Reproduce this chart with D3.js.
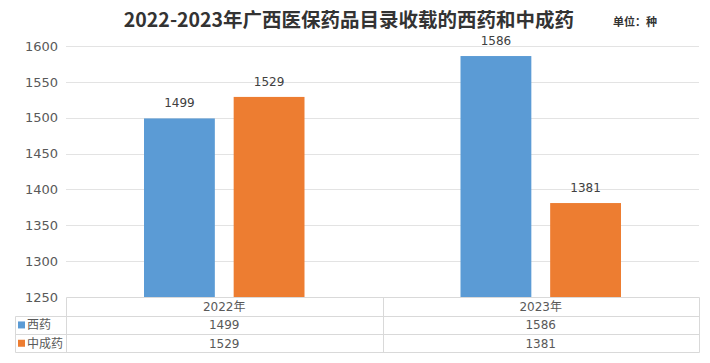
<!DOCTYPE html>
<html>
<head>
<meta charset="utf-8">
<script src="https://cdn.jsdelivr.net/npm/d3@7"></script>
<style>
  body { margin: 0; background: #fff; }
  svg { font-family: "DejaVu Sans", "Noto Sans CJK SC", sans-serif; }
</style>
</head>
<body>
<script>
const width = 710, height = 363;

const years = ["2022年", "2023年"];
const seriesNames = ["西药", "中成药"];
const westernMed = [1499, 1586];
const chineseMed = [1529, 1381];
const colors = ["#5b9bd5", "#ed7d31"];
const yTicks = [1250, 1300, 1350, 1400, 1450, 1500, 1550, 1600];

const series = [westernMed, chineseMed];

const plot = { left: 66, right: 699, top: 46, bottom: 297 };

const svg = d3.select("body").append("svg")
  .attr("width", width)
  .attr("height", height);

// title
svg.append("text")
  .attr("x", 349).attr("y", 27)
  .attr("text-anchor", "middle")
  .style("font-size", "19.5px")
  .style("font-weight", "bold")
  .style("fill", "#333")
  .style("font-family", "'Noto Sans CJK SC', sans-serif")
  .text("2022-2023年广西医保药品目录收载的西药和中成药");

svg.append("text")
  .attr("x", 613).attr("y", 26)
  .style("font-size", "11px")
  .style("font-weight", "bold")
  .style("fill", "#333")
  .style("font-family", "'Noto Sans CJK SC', sans-serif")
  .text("单位：种");

const x = d3.scaleBand()
  .domain(years)
  .range([plot.left, plot.right]);

const x1 = d3.scaleBand()
  .domain(seriesNames)
  .range([78, x.bandwidth() - 78])
  .paddingInner(0.21);

const y = d3.scaleLinear()
  .domain([1250, 1600])
  .range([plot.bottom, plot.top]);

// grid
svg.append("g")
  .selectAll("line")
  .data(yTicks.slice(1))
  .join("line")
  .attr("x1", plot.left).attr("x2", plot.right)
  .attr("y1", d => Math.round(y(d)) + 0.5)
  .attr("y2", d => Math.round(y(d)) + 0.5)
  .attr("stroke", "#e3e3e3");

// y axis labels
const axisY = d3.axisLeft(y).tickValues(yTicks).tickFormat(d3.format("d"))
  .tickSize(0).tickPadding(8);
const gy = svg.append("g")
  .attr("transform", `translate(${plot.left}, 0)`)
  .call(axisY);
gy.select(".domain").remove();
gy.selectAll("text")
  .style("font-size", "13px")
  .style("fill", "#595959")
  .style("font-family", "'DejaVu Sans', sans-serif");

// bars
const groups = svg.append("g")
  .selectAll("g")
  .data(years)
  .join("g")
  .attr("transform", d => `translate(${x(d)}, 0)`);

groups.selectAll("rect")
  .data((d, i) => seriesNames.map((s, j) => ({ s, j, v: series[j][i] })))
  .join("rect")
  .attr("x", d => x1(d.s))
  .attr("width", x1.bandwidth())
  .attr("y", d => y(d.v))
  .attr("height", d => plot.bottom - y(d.v))
  .attr("fill", d => colors[d.j]);

groups.selectAll("text.lbl")
  .data((d, i) => seriesNames.map((s, j) => ({ s, j, v: series[j][i] })))
  .join("text")
  .attr("class", "lbl")
  .attr("x", d => x1(d.s) + x1.bandwidth() / 2)
  .attr("y", d => y(d.v) - 11)
  .attr("text-anchor", "middle")
  .style("font-size", "12px")
  .style("fill", "#404040")
  .text(d => d.v);

// data table
const rowH = 18.3;
const tTop = plot.bottom + 0.5;
const tLeft = 15.5;
const tbl = svg.append("g").attr("stroke", "#d9d9d9").attr("fill", "none");

// horizontal lines
tbl.append("line").attr("x1", plot.left + 0.5).attr("x2", plot.right + 0.5)
  .attr("y1", tTop).attr("y2", tTop);
[1, 2, 3].forEach(k => {
  const yy = Math.round(tTop + k * rowH) + 0.5;
  tbl.append("line")
    .attr("x1", tLeft).attr("x2", plot.right + 0.5)
    .attr("y1", yy).attr("y2", yy);
});
// vertical lines
const lastY = Math.round(tTop + 3 * rowH) + 0.5;
tbl.append("line").attr("x1", tLeft).attr("x2", tLeft)
  .attr("y1", Math.round(tTop + rowH) + 0.5).attr("y2", lastY);
[plot.left, x("2023年"), plot.right].forEach(xx => {
  const xv = Math.round(xx) + 0.5;
  tbl.append("line").attr("x1", xv).attr("x2", xv)
    .attr("y1", tTop).attr("y2", lastY);
});

// header text
svg.append("g").selectAll("text")
  .data(years)
  .join("text")
  .attr("x", d => x(d) + x.bandwidth() / 2)
  .attr("y", tTop + rowH / 2 + 4.5)
  .attr("text-anchor", "middle")
  .style("font-size", "12px")
  .style("fill", "#595959")
  .text(d => d);

// rows
seriesNames.forEach((name, j) => {
  const cy = tTop + rowH * (j + 1) + rowH / 2;
  svg.append("rect")
    .attr("x", 18).attr("y", cy - 3.5)
    .attr("width", 7).attr("height", 7)
    .attr("fill", colors[j]);
  svg.append("text")
    .attr("x", 27).attr("y", cy + 4.5)
    .style("font-size", "12px")
    .style("fill", "#595959")
    .style("font-family", "'Noto Sans CJK SC', sans-serif")
    .text(name);
  years.forEach((yr, i) => {
    svg.append("text")
      .attr("x", x(yr) + x.bandwidth() / 2)
      .attr("y", cy + 4.5)
      .attr("text-anchor", "middle")
      .style("font-size", "12px")
      .style("fill", "#595959")
      .text(series[j][i]);
  });
});
</script>
</body>
</html>
